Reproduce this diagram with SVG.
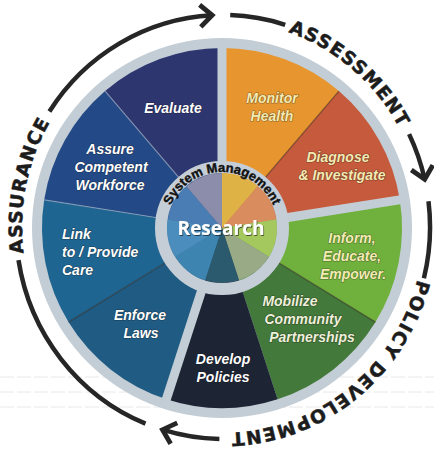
<svg xmlns="http://www.w3.org/2000/svg" width="434" height="452" viewBox="0 0 434 452">
  <style>
    .lbl { font-family: "Liberation Sans", Arial, sans-serif; font-style: italic; font-weight: 700; font-size: 14px; text-anchor: middle; fill: #ffffff; stroke: #101010; stroke-opacity: 0.45; stroke-width: 1.2px; stroke-linejoin: round; paint-order: stroke; }
    .left { text-anchor: start; }
    .warm { fill: #f3ebb2; }
    .pale { fill: #eef0da; }
    .phase { font-family: "DejaVu Sans", sans-serif; font-weight: 700; font-size: 18.5px; fill: #1c1c1c; stroke: #1c1c1c; stroke-width: 0.5px; letter-spacing: 1.3px; }
    .cycle { fill: none; stroke: #262626; stroke-width: 4.5; }
    .gap { stroke: #c3cdd5; stroke-width: 9; }
    .seam-dark { stroke: #2a1a10; stroke-opacity: 0.45; stroke-width: 1.4; }
    .seam-light { stroke: #a8b4c8; stroke-opacity: 0.6; stroke-width: 1.2; }
    .scan { stroke: #e2e2e2; stroke-width: 0.8; stroke-dasharray: 14 3; }
  </style>
  <defs>
    <filter id="shadow" x="-20%" y="-30%" width="140%" height="160%">
      <feDropShadow dx="0.8" dy="0.9" stdDeviation="0.6" flood-color="#000" flood-opacity="0.65"/>
    </filter>
    <marker id="chev" markerUnits="userSpaceOnUse" orient="auto" overflow="visible" markerWidth="1" markerHeight="1" refX="0" refY="0">
      <path d="M-12,-11 L0,0 L-12,11" fill="none" stroke="#262626" stroke-width="4.8" stroke-linejoin="miter"/>
    </marker>
    <!-- baseline ellipse for the three phase names, clockwise from the top -->
    <path id="phasePath" d="M223,21 A201,206 0 1,1 223,433 A201,206 0 1,1 223,21 Z"/>
    <!-- baseline arc over the inner hub -->
    <path id="hubPath" d="M166,228 A56,56 0 0,1 278,228"/>
  </defs>

  <rect width="434" height="452" fill="#ffffff"/>

  <!-- faint scan lines on the page -->
  <g id="page-lines">
    <line class="scan" x1="0" y1="377" x2="434" y2="377"/>
    <line class="scan" x1="0" y1="392" x2="434" y2="392"/>
    <line class="scan" x1="0" y1="407" x2="434" y2="407"/>
  </g>

  <!-- outer rim -->
  <circle id="rim" cx="222" cy="228" r="190" fill="#c3cdd5"/>

  <!-- outer wedges -->
  <g id="monitor"><path d="M222,228 L222,48 A180,180 0 0,1 338.9,91.1 Z" fill="#e6952f"/></g>
  <g id="diagnose"><path d="M222,228 L338.9,91.1 A180,180 0 0,1 399.8,199.8 Z" fill="#c65a3c"/></g>
  <g id="inform"><path d="M222,228 L399.8,199.8 A180,180 0 0,1 375.5,322.1 Z" fill="#70b03d"/></g>
  <g id="mobilize"><path d="M222,228 L375.5,322.1 A180,180 0 0,1 277.6,399.2 Z" fill="#43793a"/></g>
  <g id="develop"><path d="M222,228 L277.6,399.2 A180,180 0 0,1 166.4,399.2 Z" fill="#1d2535"/></g>
  <g id="enforce"><path d="M222,228 L166.4,399.2 A180,180 0 0,1 68.5,322.1 Z" fill="#1f5b82"/></g>
  <g id="link"><path d="M222,228 L68.5,322.1 A180,180 0 0,1 44.2,199.8 Z" fill="#1f6591"/></g>
  <g id="assure"><path d="M222,228 L44.2,199.8 A180,180 0 0,1 105.1,91.1 Z" fill="#234a86"/></g>
  <g id="evaluate"><path d="M222,228 L105.1,91.1 A180,180 0 0,1 222,48 Z" fill="#2e3670"/></g>

  <!-- seams between neighbouring services -->
  <g id="seams">
    <line class="seam-dark" x1="265.5" y1="177.1" x2="338.9" y2="91.1"/>
    <line class="seam-dark" x1="279.1" y1="263.0" x2="375.5" y2="322.1"/>
    <line class="seam-dark" x1="164.9" y1="263.0" x2="68.5" y2="322.1"/>
    <line class="seam-light" x1="155.8" y1="217.5" x2="44.2" y2="199.8"/>
    <line class="seam-light" x1="178.5" y1="177.1" x2="105.1" y2="91.1"/>
  </g>

  <!-- gaps between the three phases -->
  <g id="phase-gaps">
    <line class="gap" x1="222" y1="166" x2="222" y2="42"/>
    <line class="gap" x1="283.2" y1="218.3" x2="405.7" y2="198.9"/>
    <line class="gap" x1="202.8" y1="287.0" x2="164.5" y2="404.9"/>
  </g>

  <!-- hub -->
  <g id="hub">
    <path d="M222,228 L222,173 A55,55 0 0,1 257.7,186.2 Z" fill="#dfb245"/>
    <path d="M222,228 L257.7,186.2 A55,55 0 0,1 276.3,219.4 Z" fill="#d98c5e"/>
    <path d="M222,228 L276.3,219.4 A55,55 0 0,1 268.9,256.7 Z" fill="#a5c85e"/>
    <path d="M222,228 L268.9,256.7 A55,55 0 0,1 239.0,280.3 Z" fill="#98aa86"/>
    <path d="M222,228 L239.0,280.3 A55,55 0 0,1 205.0,280.3 Z" fill="#2b5a6e"/>
    <path d="M222,228 L205.0,280.3 A55,55 0 0,1 175.1,256.7 Z" fill="#3d84b0"/>
    <path d="M222,228 L175.1,256.7 A55,55 0 0,1 167.7,219.4 Z" fill="#4b8dbd"/>
    <path d="M222,228 L167.7,219.4 A55,55 0 0,1 186.3,186.2 Z" fill="#4a7db4"/>
    <path d="M222,228 L186.3,186.2 A55,55 0 0,1 222,173 Z" fill="#8c8cab"/>
    <circle cx="222" cy="228" r="61" fill="none" stroke="#c5ced6" stroke-width="12"/>
    <text font-family="'Liberation Sans', Arial, sans-serif" font-weight="700" font-size="13" fill="#111" stroke="#111" stroke-width="0.4"><textPath href="#hubPath" startOffset="50%" text-anchor="middle">System Management</textPath></text>
    <text x="221" y="235" font-family="'Open Sans', 'Noto Sans', sans-serif" font-weight="700" font-size="19" fill="#ffffff" text-anchor="middle" filter="url(#shadow)">Research</text>
  </g>

  <!-- service labels -->
  <g id="labels">
    <text class="lbl" x="173" y="113">Evaluate</text>
    <text class="lbl warm" y="102.5"><tspan x="272">Monitor</tspan><tspan x="272" dy="18">Health</tspan></text>
    <text class="lbl warm" y="162"><tspan x="338">Diagnose</tspan><tspan x="342" dy="18">&amp; Investigate</tspan></text>
    <text class="lbl" y="154"><tspan x="110">Assure</tspan><tspan x="111" dy="18">Competent</tspan><tspan x="110" dy="18">Workforce</tspan></text>
    <text class="lbl left" y="239"><tspan x="62">Link</tspan><tspan x="62" dy="18">to / Provide</tspan><tspan x="62" dy="18">Care</tspan></text>
    <text class="lbl" y="319.5"><tspan x="140">Enforce</tspan><tspan x="141" dy="18">Laws</tspan></text>
    <text class="lbl" y="364"><tspan x="223">Develop</tspan><tspan x="223" dy="18">Policies</tspan></text>
    <text class="lbl pale" y="306"><tspan x="290">Mobilize</tspan><tspan x="303" dy="18">Community</tspan><tspan x="312" dy="18">Partnerships</tspan></text>
    <text class="lbl warm" y="243"><tspan x="352">Inform,</tspan><tspan x="352" dy="18">Educate,</tspan><tspan x="353" dy="18">Empower.</tspan></text>
  </g>

  <!-- cycle arrows around the wheel -->
  <g id="connectors">
    <path class="cycle" d="M49.4,111.5 A207,212 0 0,1 212.2,15.3" marker-end="url(#chev)"/>
    <path class="cycle" d="M230.2,15.1 A207,212 0 0,1 285.2,24.8"/>
    <path class="cycle" d="M409.1,134.1 A207,212 0 0,1 424.7,179.3" marker-end="url(#chev)"/>
    <path class="cycle" d="M428.5,201.2 A207,212 0 0,1 423.9,278.3"/>
    <path class="cycle" d="M219.4,439.0 A207,212 0 0,1 162.5,429.7" marker-end="url(#chev)"/>
    <path class="cycle" d="M145.5,423.6 A207,212 0 0,1 18.5,260.2"/>
  </g>

  <!-- phase names -->
  <g id="phases">
    <text class="phase"><textPath href="#phasePath" startOffset="11.1%" text-anchor="middle">ASSESSMENT</textPath></text>
    <text class="phase"><textPath href="#phasePath" startOffset="39.3%" text-anchor="middle">POLICY DEVELOPMENT</textPath></text>
    <text class="phase"><textPath href="#phasePath" startOffset="78.3%" text-anchor="middle">ASSURANCE</textPath></text>
  </g>
</svg>
